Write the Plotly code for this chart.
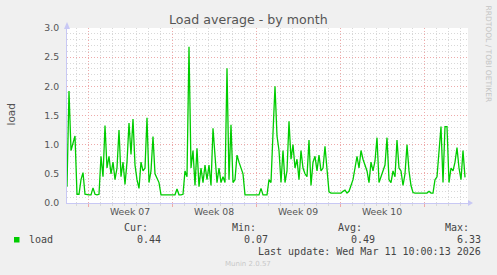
import pandas as pd
import plotly.graph_objects as go

# ---- data (load average, one sample every 4 hours) ----
start_time = "2026-02-07 06:00"
load_values = [
    0.28, 1.92, 0.90, 1.05, 1.15, 0.15, 0.15, 0.40, 0.52, 0.15,
    0.14, 0.14, 0.14, 0.26, 0.15, 0.14, 0.15, 0.80, 0.45, 1.33,
    0.60, 0.80, 0.50, 0.70, 0.40, 0.60, 1.25, 0.45, 0.70, 0.32,
    0.70, 1.37, 0.83, 1.44, 0.65, 0.40, 0.25, 0.70, 0.55, 0.60,
    1.46, 0.35, 0.55, 1.14, 0.50, 0.42, 0.35, 0.14, 0.14, 0.14,
    0.14, 0.13, 0.14, 0.14, 0.14, 0.24, 0.14, 0.14, 0.15, 0.55,
    0.45, 2.68, 0.60, 0.90, 0.30, 0.94, 0.28, 0.60, 0.35, 0.65,
    0.40, 0.65, 0.30, 1.28, 0.75, 0.35, 0.60, 0.35, 0.45, 0.35,
    2.31, 0.40, 1.34, 0.35, 0.40, 0.82, 0.70, 0.60, 0.50, 0.14,
    0.14, 0.14, 0.14, 0.14, 0.14, 0.14, 0.14, 0.25, 0.14, 0.14,
    0.14, 0.40, 0.35, 1.20, 2.00, 1.15, 0.90, 0.35, 0.90, 0.35,
    0.55, 1.40, 0.75, 1.00, 0.60, 0.75, 0.40, 0.90, 0.60, 0.50,
    0.45, 1.08, 0.30, 0.70, 0.80, 0.55, 0.82, 0.55, 0.60, 0.97,
    0.55, 0.19, 0.17, 0.17, 0.17, 0.16, 0.17, 0.17, 0.20, 0.22,
    0.17, 0.20, 0.30, 0.40, 0.60, 0.80, 0.60, 0.90, 0.75, 0.65,
    0.55, 0.35, 0.70, 0.55, 0.72, 1.12, 0.35, 0.45, 0.55, 0.65,
    1.12, 0.40, 0.35, 0.55, 0.45, 1.08, 0.60, 0.55, 0.30, 0.50,
    1.00, 0.55, 0.30, 0.18, 0.17, 0.17, 0.17, 0.17, 0.17, 0.17,
    0.17, 0.20, 0.17, 0.17, 0.40, 0.45, 0.95, 1.31, 0.35, 1.31,
    1.31, 0.35, 0.60, 0.55, 0.70, 0.95, 0.60, 0.40, 0.90, 0.44,
]
times = pd.date_range(start_time, periods=len(load_values), freq="4h")

x_range = ["2026-02-07 06:00", "2026-03-12 16:00"]
week_mid = ["2026-02-12 12:00", "2026-02-19 12:00", "2026-02-26 12:00", "2026-03-05 12:00"]
week_labels = ["Week 07", "Week 08", "Week 09", "Week 10"]
week_starts = ["2026-02-09", "2026-02-16", "2026-02-23", "2026-03-02", "2026-03-09"]
y_ticks = [0, 0.5, 1.0, 1.5, 2.0, 2.5, 3.0]

legend_name = "load"
stat_heads = ["Cur:", "Min:", "Avg:", "Max:"]
stat_vals = ["0.44", "0.07", "0.49", "6.33"]
last_update = "Last update: Wed Mar 11 10:00:13 2026"

# ---- geometry (pixels) ----
W, H = 497, 275
L, R, T, B = 67, 468, 28, 203
pw, ph = R - L, B - T

def px(x):
    return (x - L) / pw

def py(y):
    return (B - y) / ph

GREEN = "#00cc00"
RED = "#eeaaaa"
GRAY = "#d8d8d8"
AXIS = "#c8c8f4"
TXT = "#555555"

fig = go.Figure()
fig.add_trace(go.Scatter(x=times, y=load_values, mode="lines",
                         line=dict(color=GREEN, width=1.3),
                         hoverinfo="skip", showlegend=False))
fig.add_trace(go.Scatter(x=times, y=load_values, mode="lines", xaxis="x2",
                         line=dict(width=0), opacity=0,
                         hoverinfo="skip", showlegend=False))

fig.update_layout(
    width=W, height=H,
    margin=dict(l=L, r=W - R, t=T, b=H - B),
    paper_bgcolor="#f0f0f0", plot_bgcolor="white",
    font=dict(family="DejaVu Sans", size=9.3, color=TXT),
    xaxis=dict(type="date", range=x_range, tickmode="array",
               tickvals=week_mid, ticktext=week_labels,
               showgrid=False, ticks="", zeroline=False,
               showline=True, linecolor=AXIS, linewidth=1,
               tickfont=dict(size=9.3, color=TXT),
               minor=dict(tickmode="linear", tick0="2026-02-07", dtick=86400000,
                          showgrid=True, gridcolor=GRAY, griddash="1px,2px",
                          gridwidth=1, ticks="outside", ticklen=2, tickcolor=GRAY)),
    xaxis2=dict(type="date", range=x_range, overlaying="x", anchor="y",
                side="bottom", tickmode="array", tickvals=week_starts,
                showticklabels=False, showgrid=True, gridcolor=RED,
                griddash="1px,2px", gridwidth=1, ticks="outside", ticklen=3,
                tickcolor=RED, zeroline=False, showline=False),
    yaxis=dict(range=[0, 3], tickmode="array", tickvals=y_ticks,
               ticktext=[f"{v:.1f}" for v in y_ticks],
               showgrid=True, gridcolor=RED, griddash="1px,2px", gridwidth=1,
               zeroline=False, showline=True, linecolor=AXIS, linewidth=1,
               ticks="", ticklabelstandoff=5,
               tickfont=dict(size=9.3, color=TXT),
               minor=dict(dtick=0.1, showgrid=True, gridcolor=GRAY,
                          griddash="1px,2px", gridwidth=1)),
)

shapes = [
    # axis arrows
    dict(type="path", xref="paper", yref="paper", layer="above",
         xsizemode="pixel", ysizemode="pixel", xanchor=0, yanchor=1,
         path="M -3 -1 L 3 -1 L 0 6 Z", fillcolor=AXIS, line=dict(width=0)),
    dict(type="path", xref="paper", yref="paper", layer="above",
         xsizemode="pixel", ysizemode="pixel", xanchor=1, yanchor=0,
         path="M 0 -3 L 0 3 L 5 0 Z", fillcolor=AXIS, line=dict(width=0)),
    # legend swatch
    dict(type="rect", xref="paper", yref="paper",
         x0=px(14), x1=px(19.5), y0=py(242.5), y1=py(237),
         fillcolor=GREEN, line=dict(width=0)),
]
fig.update_layout(shapes=shapes)

mono = dict(family="DejaVu Sans Mono", size=10, color="#444444")
ann = []

def add(text, x, y, xanchor="left", font=None, angle=0):
    ann.append(dict(text=text, x=px(x), y=py(y), xref="paper", yref="paper",
                    xanchor=xanchor, yanchor="middle", showarrow=False,
                    font=font or mono, textangle=angle))

add("Load average - by month", 248.5, 19.5, "center",
    dict(family="DejaVu Sans", size=12.6, color=TXT))
add("load", 10.5, 115, "center", dict(family="DejaVu Sans", size=10.5, color=TXT), -90)
add("RRDTOOL / TOBI OETIKER", 488.5, 54, "center",
    dict(family="DejaVu Sans", size=7.5, color="#c4c4c4"), 90)
add(legend_name, 26.5, 239.5)
for head, val, hx, vx in zip(stat_heads, stat_vals, [150, 258, 364, 471], [163, 270, 377, 483]):
    add(head, hx, 227.5, "right")
    add(val, vx, 239.5, "right")
add(last_update, 483, 251.5, "right")
add("Munin 2.0.57", 248, 264, "center", dict(family="DejaVu Sans", size=7, color="#c8c8c8"))
fig.update_layout(annotations=ann)

fig.write_html("out.html", config={"displayModeBar": False})
